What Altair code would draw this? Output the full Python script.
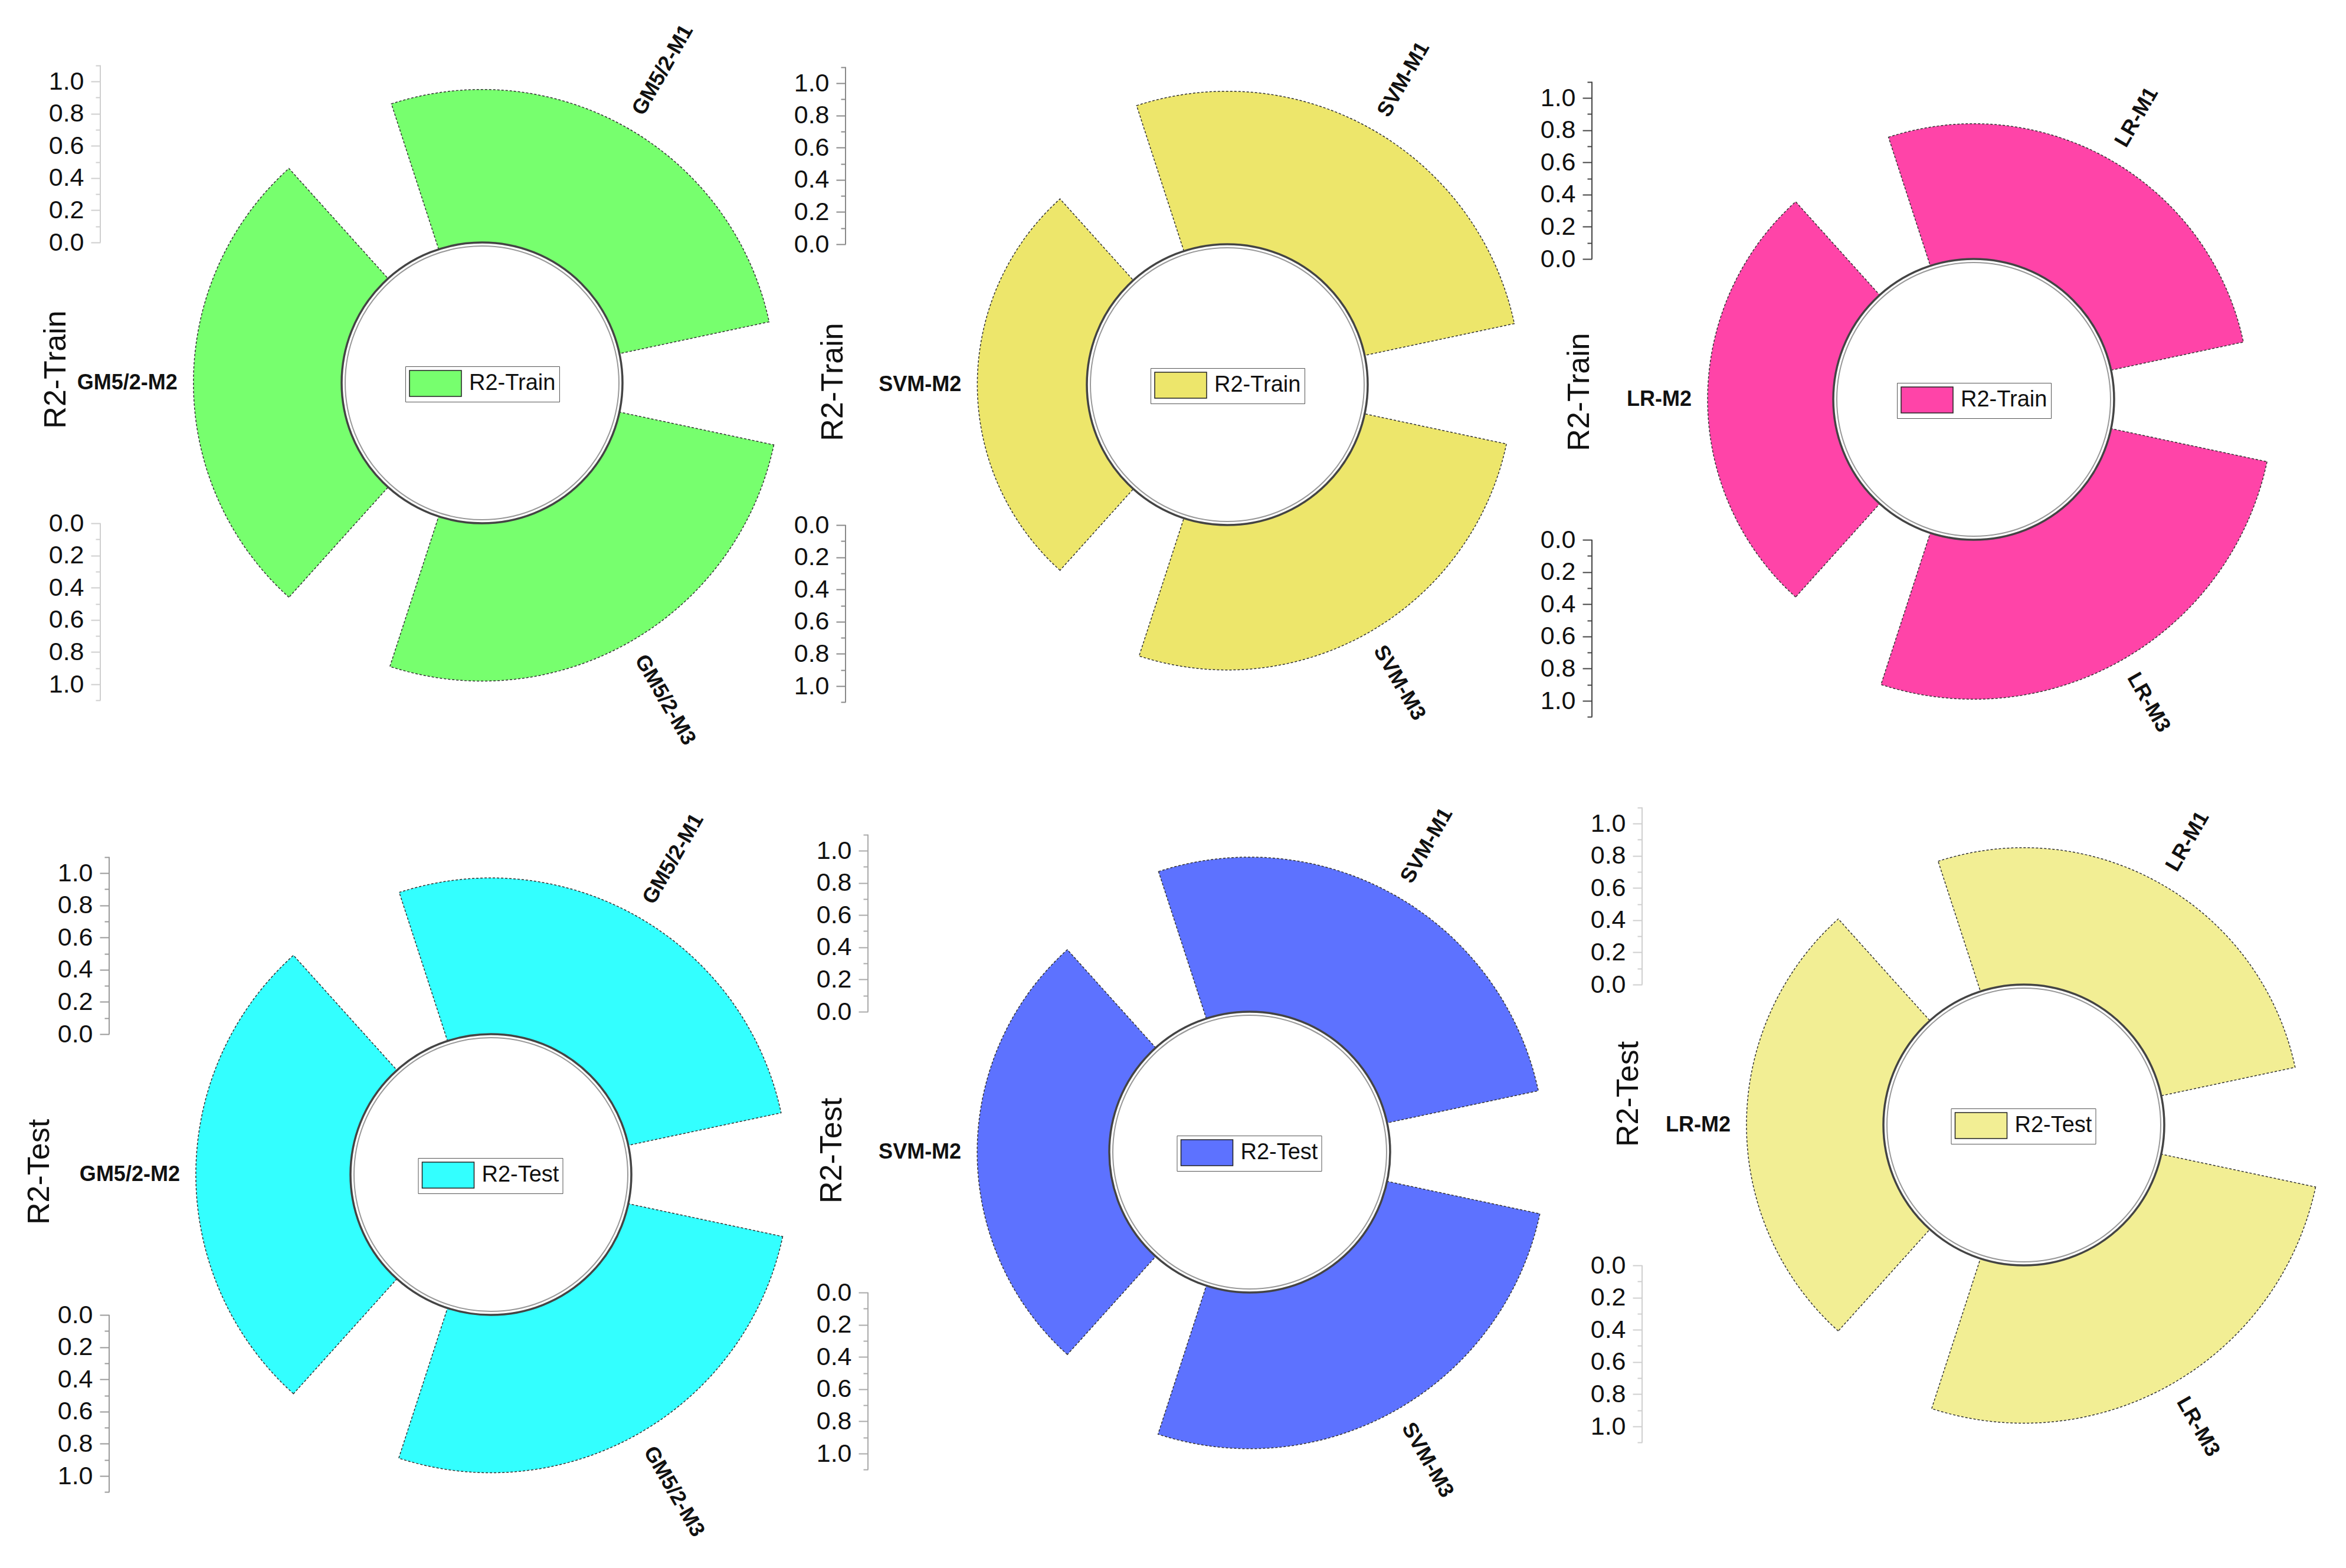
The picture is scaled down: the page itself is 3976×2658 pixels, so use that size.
import altair as alt
import pandas as pd

# ---------------- data ----------------
gm_models = ["GM5/2-M1", "GM5/2-M2", "GM5/2-M3"]
svm_models = ["SVM-M1", "SVM-M2", "SVM-M3"]
lr_models = ["LR-M1", "LR-M2", "LR-M3"]

gm_train = [0.95, 0.92, 0.98]
svm_train = [0.95, 0.68, 0.90]
lr_train = [0.84, 0.78, 0.99]

gm_test = [0.97, 0.96, 0.98]
svm_test = [0.96, 0.82, 0.97]
lr_test = [0.85, 0.85, 0.98]

axis_ticks = [0.0, 0.1, 0.2, 0.3, 0.4, 0.5, 0.6, 0.7, 0.8, 0.9, 1.0, 1.1]

# ---------------- layout ----------------
FONT = "Liberation Sans"
W, H = 1318, 1318
R0, K = 238, 273          # inner radius (value 0) and pixels per unit
AXIS_MAX = 1.1
HALF = 48                 # half width of each wedge in degrees
CENTER_ANGLE = [30, 270, 150]   # M1, M2, M3 angular centres
AXIS_DX = 647

theta_scale = alt.Scale(type="linear", domain=[0, 360], range=[0, 6.283185307])
radius_scale = alt.Scale(type="linear", domain=[0, AXIS_MAX], range=[R0, R0 + AXIS_MAX * K], zero=False)


def panel(cats, vals, color, series, cx, cy, title_dx, title_dy, axis_col):
    df = pd.DataFrame({"cat": cats, "r2": vals, "series": [series] * 3, "tc": CENTER_ANGLE})
    base = alt.Chart(df)
    ax = cx - AXIS_DX

    up = [round(R0 + t * K, 3) for t in axis_ticks]
    dn = [-u for u in up]
    ax_df = pd.DataFrame({"u1": [up[0], dn[0]], "u2": [up[-1], dn[-1]]})
    major = f"round((abs(datum.value)-{R0})/{K}*10) % 2 == 0"
    label_expr = (f"{major} ? format(abs(round((abs(datum.value)-{R0})/{K}*10))/10, '.1f') : ''")
    axis = alt.Axis(
        values=up + dn, offset=-ax, domain=False, grid=False,
        tickColor=axis_col, tickWidth=2,
        tickSize={"condition": {"test": major, "value": 16}, "value": 8},
        labelExpr=label_expr, labelFont=FONT, labelFontSize=43, labelColor="#111",
        labelPadding=12, labelOverlap=False, labelFlush=False,
        title=series, titleFont=FONT, titleFontSize=52, titleFontWeight="normal",
        titleColor="#111", titleX=title_dx, titleY=cy + title_dy, titleAngle=270,
        titleAlign="center", titleBaseline="middle",
    )
    axis_rules = alt.Chart(ax_df).mark_rule(color=axis_col, strokeWidth=2).encode(
        x=alt.value(ax),
        y=alt.Y("u1:Q", scale=alt.Scale(domain=[cy - H, cy], nice=False, zero=False), axis=axis),
        y2="u2:Q",
    )

    lw = 6 + 88 + 12 + (148 if "Train" in series else 135) + 6
    wedges = base.transform_calculate(
        t1=f"datum.tc - {HALF}", t2=f"datum.tc + {HALF}"
    ).mark_arc(stroke="#333", strokeWidth=1.5, strokeDash=[4, 3]).encode(
        theta=alt.Theta("t1:Q", scale=theta_scale, stack=False),
        theta2="t2:Q",
        radius=alt.Radius("r2:Q", scale=radius_scale),
        radius2=alt.value(R0),
        x=alt.value(cx), y=alt.value(cy),
        color=alt.Color(
            "series:N", scale=alt.Scale(domain=[series], range=[color]),
            legend=alt.Legend(
                orient="none", legendX=cx - lw / 2, legendY=cy - 28, title=None,
                labelFont=FONT, labelFontSize=38, labelColor="#111",
                symbolType="M-1,-1H3V1H-1Z", symbolSize=1936,
                symbolStrokeColor="#222", symbolStrokeWidth=1.5,
                labelOffset=56, padding=6, strokeColor="#555", fillColor="white",
            ),
        ),
    )

    ring = alt.Chart(pd.DataFrame({"k": [0]})).mark_arc(
        fill="white", stroke="#444", strokeWidth=3.5
    ).encode(
        theta=alt.value(0), theta2=alt.value(6.2832),
        radius=alt.value(R0), radius2=alt.value(0),
        x=alt.value(cx), y=alt.value(cy),
    )
    ring2 = alt.Chart(pd.DataFrame({"k": [0]})).mark_arc(
        filled=False, stroke="#999", strokeWidth=2
    ).encode(
        theta=alt.value(0), theta2=alt.value(6.2832),
        radius=alt.value(R0 - 6), radius2=alt.value(R0 - 6),
        x=alt.value(cx), y=alt.value(cy),
    )

    def label(i, align, angle, off):
        return base.transform_filter(f"datum.cat == '{cats[i]}'").mark_text(
            align=align, baseline="middle", angle=angle, radiusOffset=off,
            font=FONT, fontSize=36, fontWeight="bold", color="#111",
        ).encode(
            theta=alt.Theta("tc:Q", scale=theta_scale, stack=False),
            radius=alt.Radius("r2:Q", scale=radius_scale),
            text="cat:N",
            x=alt.value(cx), y=alt.value(cy),
        )

    return alt.layer(
        axis_rules, wedges, ring, ring2,
        label(0, "left", 300, 30), label(1, "right", 0, 27), label(2, "left", 60, 30),
    ).properties(width=W, height=H)


p1 = panel(gm_models, gm_train, "#77FF6E", "R2-Train", 809, 641, -76, -23, "#cfcfcf")
p2 = panel(svm_models, svm_train, "#EDE66B", "R2-Train", 754, 644, -22, -5, "#8a8a8a")
p3 = panel(lr_models, lr_train, "#FF44A8", "R2-Train", 701, 669, -22, -13, "#444444")
p4 = panel(gm_models, gm_test, "#33FFFF", "R2-Test", 824, 665, -119, -5, "#9a9a9a")
p5 = panel(svm_models, svm_test, "#5D72FF", "R2-Test", 792, 627, -62, -3, "#aaaaaa")
p6 = panel(lr_models, lr_test, "#F2EE94", "R2-Test", 786, 581, -24, -53, "#cfcfcf")

chart = alt.concat(
    p1, p2, p3, p4, p5, p6, columns=3, spacing=0, bounds="flush", padding=0,
    background="white",
).resolve_scale(color="independent").configure_view(
    stroke="transparent", strokeWidth=0
)

chart.save("out.html", embed_options={"renderer": "svg", "actions": False})
